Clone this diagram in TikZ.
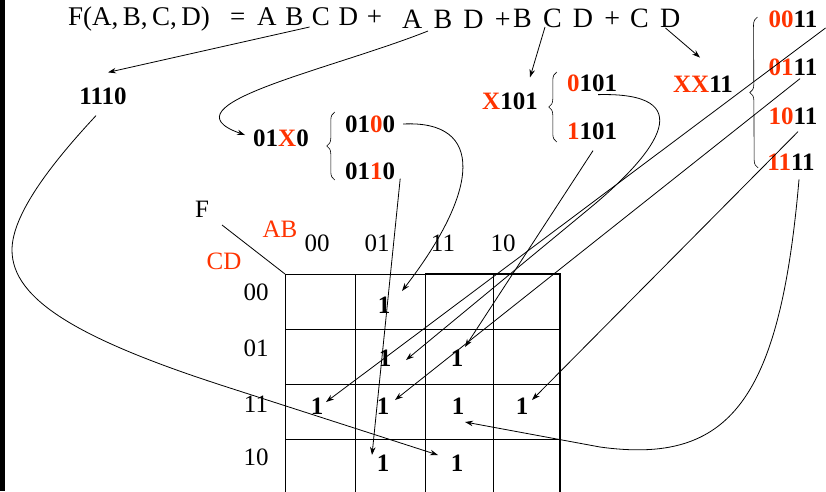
\documentclass[tikz,border=0pt]{standalone}
\usepackage{fontspec}
\setmainfont{Liberation Serif}
\usepackage{xcolor}
\usepackage{tikz}
\usetikzlibrary{arrows.meta, positioning, calc, decorations.pathreplacing}

\definecolor{kred}{RGB}{255,51,0}
\newcommand{\rd}[1]{\textcolor{kred}{#1}}

\begin{document}
\begin{tikzpicture}[
  x=1pt, y=-1pt,
  term/.style={inner sep=0pt, anchor=base west,
    font={\fontsize{27}{27}\selectfont\spaceskip=.32em\relax}},
  bigterm/.style={term,
    font={\fontsize{28}{28}\selectfont\spaceskip=.4em\relax}},
  code/.style={inner sep=1pt, font=\fontsize{25}{25}\selectfont\bfseries},
  lab/.style={inner sep=1pt, font=\fontsize{25}{25}\selectfont},
  one/.style={inner sep=1pt, font=\fontsize{25}{25}\selectfont\bfseries},
  arrow/.style={-{Stealth[length=8pt,width=5.5pt]}, line width=0.8pt},
  link/.style={line width=0.8pt},
  brace/.style={decorate, decoration={brace, amplitude=8pt}, line width=0.6pt},
  grid/.style={line width=0.8pt},
  frame/.style={line width=1.6pt}
]
\useasboundingbox (0,0) rectangle (826,491);
\fill (0,0) rectangle (5,491);

% formula
\node[term]    (lhs) at (68,25)  {F(A,\,B,\,C,\,D)\hspace{.75em}=};
\node[term]    (t1)  at (257,25) {A B C D +};
\node[bigterm] (t2)  at (402,28) {A B D +};
\node[bigterm] (t3)  at (513,27) {B C D +};
\node[bigterm] (t4)  at (630,27) {C D};

% minterm codes
\node[code] (n1110) at (103,96)  {1110};
\node[code] (n01X0) at (281,138) {01\rd{X}0};
\node[code] (n0100) at (370,124) {01\rd{0}0};
\node[code] (n0110) at (370,171) {01\rd{1}0};
\node[code] (nX101) at (510,101) {\rd{X}101};
\node[code] (n0101) at (592,83)  {\rd{0}101};
\node[code] (n1101) at (592,131) {\rd{1}101};
\node[code] (nXX11) at (703,84)  {\rd{XX}11};
\node[code] (n0011) at (793,19)  {\rd{00}11};
\node[code] (n0111) at (793,67)  {\rd{01}11};
\node[code] (n1011) at (793,116) {\rd{10}11};
\node[code] (n1111) at (791,162) {\rd{11}11};

\draw[brace] ($(n0110.west)+(-9,9)$) -- ($(n0100.west)+(-9,-12)$);
\draw[brace] ($(n1101.west)+(-9,11)$) -- ($(n0101.west)+(-9,-11)$);
\draw[brace] ($(n1111.west)+(-8,6)$)  -- ($(n0011.west)+(-10,-2)$);

% K-map
\foreach \y in {329,384,439}
  \draw[grid] (285,\y) -- (560,\y);
\foreach \x in {285,355,425,493}
  \draw[grid] (\x,274) -- (\x,495);
\draw[grid] (285,274) -- (425,274);
\draw[frame] (425,274) -- (560,274) -- (560,495);

\node[lab] (F) at (202,209) {F};
\node[lab, text=kred] (AB) at (280,229) {AB};
\node[lab, text=kred] (CD) at (224,261) {CD};
\coordinate (corner) at (285,274);
\draw[link] ($(F)+(20,16)$) -- (corner);

\foreach \x/\t in {317/00, 377/01, 443/11, 503/10}
  \node[lab] (col\t) at (\x,243) {\t};
\foreach \y/\t in {292/00, 348/01, 404/11, 457/10}
  \node[lab] (row\t) at (256,\y) {\t};

\node[one] (m4)  at (384,305) {1};
\node[one] (m5)  at (385,358) {1};
\node[one] (m13) at (457,358) {1};
\node[one] (m3)  at (317,406) {1};
\node[one] (m7)  at (383,406) {1};
\node[one] (m15) at (458,406) {1};
\node[one] (m11) at (522,406) {1};
\node[one] (m6)  at (383,463) {1};
\node[one] (m14) at (457,463) {1};

% terms to codes
\draw[arrow] ($(t1.base)+(-10,2)$) -- ($(n1110.north)+(5,-14)$);
\draw[arrow] ($(t2.base west)+(26,3)$)
  .. controls (330,70) and (160,105) .. ($(n01X0.west)+(-7,-3)$);
\draw[arrow] ($(t3.base west)+(32,0)$) -- ($(nX101.north)+(20,-14)$);
\draw[arrow] ($(t4.base east)+(-15,1)$) -- ($(nXX11.north)+(-3,-17)$);

% codes to cells
\draw[arrow] ($(n1110.south)+(-7,10)$)
  .. controls (50,165) and (12,215) .. (12,250)
  .. controls (12,300) and (80,340) .. (230,388)
  -- ($(m14)+(-19,-8)$);
\draw[arrow] ($(n0100.east)+(7,0)$)
  .. controls (485,120) and (480,190) .. ($(m4)+(18,-14)$);
\draw[arrow] ($(n0110.south east)+(4,-2)$) -- ($(m6)+(-11,-8)$);
\draw[arrow] ($(n0101.south)+(6,2)$)
  .. controls (700,92) and (660,150) .. (590,208)
  -- ($(m5)+(21,2)$);
\draw[arrow] ($(n1101.south)+(1,10)$) -- ($(m13)+(8,-11)$);
\draw[arrow] ($(n0011.east)+(7,9)$) -- ($(m3)+(9,-4)$);
\draw[arrow] ($(n0111.south)+(7,2)$) -- ($(m7)+(12,-6)$);
\draw[arrow] ($(n1011.south)+(5,6)$) -- ($(m11)+(10,-6)$);
\draw[arrow] ($(n1111.south)+(8,8)$)
  .. controls (780,400) and (730,465) .. (600,447)
  -- ($(m15)+(7,16)$);

\end{tikzpicture}
\end{document}
